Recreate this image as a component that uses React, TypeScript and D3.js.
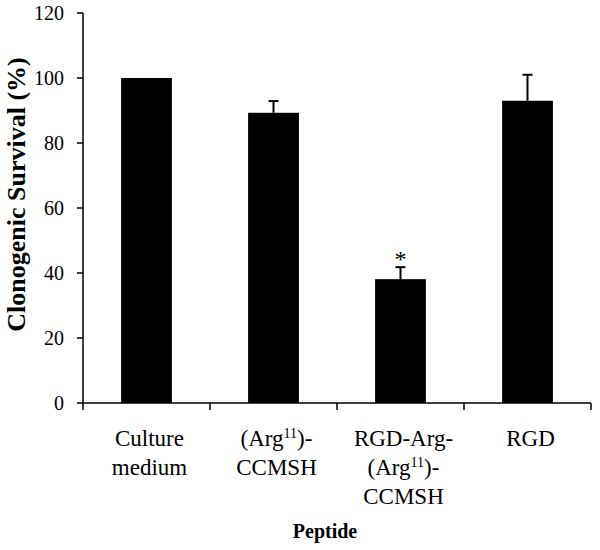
import React from "react";
import * as d3 from "d3";

const categories = ["Culture medium", "(Arg11)-CCMSH", "RGD-Arg-(Arg11)-CCMSH", "RGD"];
const categoryLines = [
  ["Culture", "medium"],
  ["(Arg{11})-", "CCMSH"],
  ["RGD-Arg-", "(Arg{11})-", "CCMSH"],
  ["RGD"],
];
const values = [100, 89.3, 38.1, 93.0];
const errors = [0, 3.6, 3.7, 8.0];
const significant = [false, false, true, false];
const yTicks = [0, 20, 40, 60, 80, 100, 120];

const W = 600;
const H = 550;
const left = 83;
const right = 591;
const top = 13;
const bottom = 403;
const font = "'Liberation Serif', 'Times New Roman', Times, serif";

function renderLine(line: string) {
  const parts = line.split(/(\{[^}]*\})/).filter((p) => p.length > 0);
  return parts.map((p, i) =>
    p.startsWith("{") ? (
      <tspan key={i} style={{ fontSize: 14 }} dy={-8}>
        {p.slice(1, -1)}
      </tspan>
    ) : i > 0 && parts[i - 1].startsWith("{") ? (
      <tspan key={i} dy={8}>
        {p}
      </tspan>
    ) : (
      <tspan key={i}>{p}</tspan>
    )
  );
}

export default function App() {
  const x = d3
    .scaleBand<string>()
    .domain(categories)
    .range([left, right])
    .paddingInner(0.6)
    .paddingOuter(0.3);
  const y = d3.scaleLinear().domain([0, 120]).range([bottom, top]);
  const step = x.step();
  const bw = x.bandwidth();
  const boundaries = [
    ...categories.map((c) => (x(c) as number) - (step - bw) / 2),
    right,
  ];
  const txt = (size: number, bold = false) => ({
    fontFamily: font,
    fontSize: size,
    fontWeight: bold ? 700 : 400,
  });

  return (
    <svg
      width={W}
      height={H}
      style={{ position: "absolute", left: 0, top: 0, background: "#fff" }}
    >
      <rect x={0} y={0} width={W} height={H} fill="#fff" />
      {/* bars */}
      {categories.map((c, i) => (
        <rect
          key={c}
          x={x(c)}
          y={y(values[i])}
          width={bw}
          height={bottom - y(values[i])}
          fill="#000"
        />
      ))}
      {/* error bars */}
      {categories.map((c, i) => {
        if (!errors[i]) return null;
        const cx = (x(c) as number) + bw / 2;
        const yt = y(values[i] + errors[i]);
        return (
          <g key={c} stroke="#000" strokeWidth={2}>
            <line x1={cx} x2={cx} y1={y(values[i])} y2={yt} />
            <line x1={cx - 5} x2={cx + 5} y1={yt} y2={yt} />
          </g>
        );
      })}
      {/* significance */}
      {categories.map((c, i) =>
        significant[i] ? (
          <text
            key={c}
            x={(x(c) as number) + bw / 2}
            y={y(values[i] + errors[i])}
            textAnchor="middle"
            style={txt(24)}
          >
            *
          </text>
        ) : null
      )}
      {/* y axis */}
      <line x1={left} x2={left} y1={top} y2={bottom} stroke="#000" strokeWidth={1.5} />
      {yTicks.map((t) => (
        <g key={t}>
          <line x1={left - 6} x2={left} y1={y(t)} y2={y(t)} stroke="#000" strokeWidth={1.5} />
          <text x={64} y={y(t)} dy="0.35em" textAnchor="end" style={txt(20)}>
            {t}
          </text>
        </g>
      ))}
      {/* x axis */}
      <line x1={left} x2={right} y1={bottom} y2={bottom} stroke="#000" strokeWidth={1.5} />
      {boundaries.map((b, i) => (
        <line key={i} x1={b} x2={b} y1={bottom} y2={bottom + 7} stroke="#000" strokeWidth={1.5} />
      ))}
      {categories.map((c, i) => (
        <text
          key={c}
          x={(x(c) as number) + bw / 2 + 3}
          textAnchor="middle"
          style={txt(23)}
        >
          {categoryLines[i].map((ln, j) => (
            <tspan key={j} x={(x(c) as number) + bw / 2 + 3} y={446 + j * 29}>
              {renderLine(ln)}
            </tspan>
          ))}
        </text>
      ))}
      {/* axis titles */}
      <text x={325} y={538} textAnchor="middle" style={txt(20, true)}>
        Peptide
      </text>
      <text
        transform={`translate(25, ${(57 + 332) / 2}) rotate(-90)`}
        textAnchor="middle"
        style={txt(26, true)}
      >
        Clonogenic Survival (%)
      </text>
    </svg>
  );
}
